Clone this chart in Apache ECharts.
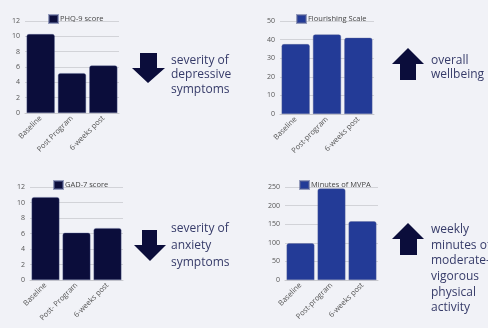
<!DOCTYPE html>
<html>
<head>
<meta charset="utf-8">
<script src="https://cdn.jsdelivr.net/npm/echarts@6/dist/echarts.min.js"></script>
<style>
  html, body { margin: 0; padding: 0; background: #f1f2f7; }
  #main { width: 488px; height: 328px; }
</style>
</head>
<body>
<div id="main"></div>
<script>
var myChart = echarts.init(document.getElementById('main'));

// categories per panel (labels differ slightly in the source)
var catsPhq = ['Baseline', 'Post Program', '6-weeks post'];
var catsFlour = ['Baseline', 'Post-program', '6-weeks post'];
var catsGad = ['Baseline', 'Post- Program', '6-weeks post'];
var catsMvpa = ['Baseline', 'Post-program', '6-weeks post'];

// values
var phq9 = [10.3, 5.2, 6.2];
var flourishing = [37.6, 42.8, 41];
var gad7 = [10.7, 6.1, 6.7];
var mvpa = [99, 246, 158];

var dark = '#0b0d3b';
var blue = '#233b97';
var txt = '#363b69';
var font = 'Open Sans';

function yAx(idx, max, interval) {
    return {
        gridIndex: idx, min: 0, max: max, interval: interval,
        axisLine: { show: false }, axisTick: { show: false },
        axisLabel: { color: '#555', fontSize: 7, margin: 5, fontFamily: font },
        splitLine: { lineStyle: { color: '#d2d3d8', width: 1 } }
    };
}
function xAx(idx, cats) {
    return {
        type: 'category', gridIndex: idx, data: cats,
        axisLine: { lineStyle: { color: '#c8c9ce' } },
        axisTick: { show: false },
        axisLabel: { rotate: 45, fontSize: 7.5, color: '#555', margin: 4, fontFamily: font, interval: 0 }
    };
}
function legend(name, left, top) {
    return {
        data: [name], left: left, top: top, itemWidth: 9, itemHeight: 8, icon: 'rect',
        textStyle: { fontSize: 7.5, color: '#444', fontFamily: font, padding: [0, 0, 0, -3] }
    };
}
function bars(name, idx, vals, color) {
    return {
        name: name, type: 'bar', xAxisIndex: idx, yAxisIndex: idx, data: vals,
        barCategoryGap: '10%',
        itemStyle: { color: color, borderRadius: [2, 2, 0, 0], borderColor: 'rgba(90,100,150,0.6)', borderWidth: 0.6 }
    };
}
function words(x, y, lines, lh) {
    return {
        type: 'text', left: x, top: y,
        style: { text: lines.join('\n'), fill: txt, font: '500 12px "' + font + '"', lineHeight: lh }
    };
}
function arrow(points) {
    return { type: 'polygon', shape: { points: points }, style: { fill: dark } };
}

option = {
    backgroundColor: '#f1f2f7',
    animation: false,
    grid: [
        { left: 25, top: 21, width: 94, height: 92 },
        { left: 280, top: 21, width: 94, height: 93 },
        { left: 30, top: 187, width: 93, height: 93 },
        { left: 285, top: 187, width: 93, height: 93 }
    ],
    xAxis: [xAx(0, catsPhq), xAx(1, catsFlour), xAx(2, catsGad), xAx(3, catsMvpa)],
    yAxis: [yAx(0, 12, 2), yAx(1, 50, 10), yAx(2, 12, 2), yAx(3, 250, 50)],
    legend: [
        legend('PHQ-9 score', 43, 9),
        legend('Flourishing Scale', 291, 9),
        legend('GAD-7 score', 48, 175),
        legend('Minutes of MVPA', 294, 175)
    ],
    graphic: [
        arrow([[140, 53], [157, 53], [157, 68], [165, 68], [148, 83], [132, 68], [140, 68]]),
        arrow([[408, 48], [424, 64], [416, 64], [416, 80], [400, 80], [400, 64], [392, 64]]),
        arrow([[142, 230], [157, 230], [157, 245], [166, 245], [150, 261], [134, 245], [142, 245]]),
        arrow([[408, 223], [424, 239], [417, 239], [417, 255], [400, 255], [400, 239], [392, 239]]),
        words(171, 53, ['severity of', 'depressive', 'symptoms'], 14.5),
        words(431, 54, ['overall', 'wellbeing'], 13.5),
        words(171, 220, ['severity of', 'anxiety', 'symptoms'], 17),
        words(431, 222, ['weekly', 'minutes of', 'moderate-', 'vigorous', 'physical', 'activity'], 15.6)
    ],
    series: [
        bars('PHQ-9 score', 0, phq9, dark),
        bars('Flourishing Scale', 1, flourishing, blue),
        bars('GAD-7 score', 2, gad7, dark),
        bars('Minutes of MVPA', 3, mvpa, blue)
    ]
};
myChart.setOption(option);
</script>
</body>
</html>
